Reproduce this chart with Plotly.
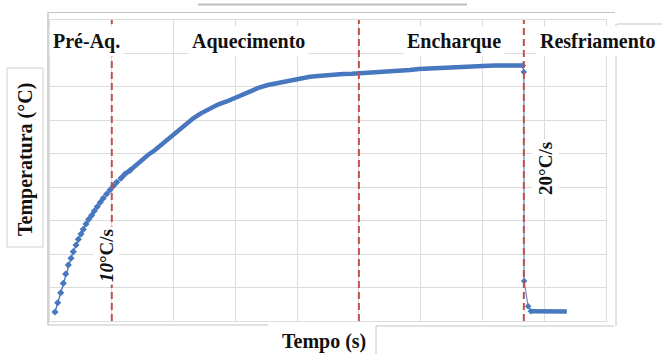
import plotly.graph_objects as go

# ---------------- data ----------------
# pre-heating samples (individual markers visible)
t_pre = [0.81, 1.25, 1.73, 2.15, 2.54, 2.96, 3.40, 3.77, 4.21, 4.58, 5.02, 5.39,
         5.83, 6.26, 6.75, 7.17, 7.65, 8.14, 8.62, 9.17, 9.71, 10.24, 10.79,
         11.49, 12.14, 12.94]
T_pre = [26.9, 54.7, 84.6, 112.7, 140.5, 167.5, 187.5, 207.2, 227.3, 244.3, 260.2,
         274.2, 290.1, 304.1, 316.0, 328.9, 341.8, 354.9, 366.9, 379.7, 391.7,
         403.7, 414.7, 426.7, 439.5, 450.0]

# heating + soaking (dense samples, drawn as a band)
t_heat = [11.49, 12.14, 12.94, 13.75, 14.89, 15.86, 17.00, 17.80, 19.09, 20.50,
          21.84, 23.19, 24.43, 25.89, 27.18, 28.59, 29.94, 31.28, 32.69, 33.98,
          35.28, 36.68, 38.35, 39.92, 40.94, 42.07, 43.37, 44.77, 46.12, 47.46,
          48.87, 50.16, 51.78, 53.40, 55.02, 56.63, 58.25, 59.71, 61.49, 63.11,
          64.89, 66.67, 68.28, 70.06, 72.01, 73.62, 75.24, 76.21, 76.54]
T_heat = [426.7, 439.5, 450.0, 463.4, 481.4, 496.3, 511.3, 523.3, 544.2, 567.1,
          588.0, 605.9, 620.9, 636.9, 647.3, 656.3, 666.8, 678.7, 689.2, 698.8,
          705.6, 710.7, 717.6, 723.6, 728.1, 730.5, 732.6, 735.5, 737.0, 738.5,
          739.4, 740.6, 742.1, 743.9, 746.0, 748.1, 750.5, 753.5, 755.6, 757.1,
          758.6, 760.1, 761.3, 762.5, 763.7, 764.5, 765.4, 766.0, 764.0]

# cooling samples
t_cool = [76.54, 76.70, 76.75, 77.39, 77.83]
T_cool = [764.0, 744.5, 119.6, 44.0, 29.0]

# final hold (dense)
t_hold = [77.83, 78.80, 80.10, 81.39, 82.52, 83.66]
T_hold = [29.0, 28.4, 28.4, 28.4, 28.4, 28.4]

phase_bounds = [10.0, 50.0, 76.7]
phase_names = ["Pré-Aq.", "Aquecimento", "Encharque", "Resfriamento"]
phase_label_t = [5.83, 32.2, 65.4, 88.7]
phase_label_T = 837

rate_labels = ["<b><i>10</i>°C/s</b>", "<b>20°C/s</b>"]
rate_label_t = [9.06, 80.3]
rate_label_T = [197, 455]

x_title = "Tempo (s)"
y_title = "Temperatura (°C)"

# ---------------- layout geometry ----------------
W, H = 662, 354
L, R, TOP, B = 50, 606, 20, 321   # plot area in pixels


def px(x):
    return (x - L) / (R - L)


def py(y):
    return (B - y) / (B - TOP)


BLUE = "#4677bf"
RED = "#c0504d"
FONT = "Liberation Serif"

fig = go.Figure()

fig.add_trace(go.Scatter(x=t_heat, y=T_heat, mode="lines",
                         line=dict(color=BLUE, width=4.5), hoverinfo="skip",
                         showlegend=False))
fig.add_trace(go.Scatter(x=t_hold, y=T_hold, mode="lines",
                         line=dict(color=BLUE, width=4.5), hoverinfo="skip",
                         showlegend=False))
fig.add_trace(go.Scatter(x=t_pre, y=T_pre, mode="lines+markers",
                         line=dict(color=BLUE, width=1.3),
                         marker=dict(color=BLUE, size=5.5, symbol="diamond"),
                         showlegend=False))
fig.add_trace(go.Scatter(x=t_cool, y=T_cool, mode="lines+markers",
                         line=dict(color="#6f95d0", width=1.3),
                         marker=dict(color=BLUE, size=5, symbol="diamond"),
                         showlegend=False))

shapes = []
for tb in phase_bounds:
    shapes.append(dict(type="line", xref="x", yref="paper", x0=tb, x1=tb,
                       y0=0, y1=1, line=dict(color=RED, width=2, dash="7px,4px"),
                       layer="above"))

GREY = "#c4c4c4"


def seg(x0, y0, x1, y1, color=GREY, width=1):
    shapes.append(dict(type="line", xref="paper", yref="paper",
                       x0=px(x0), y0=py(y0), x1=px(x1), y1=py(y1),
                       line=dict(color=color, width=width), layer="above"))


# frame artefacts of the original composite picture
seg(198, 4.5, 467, 4.5, "#bdbdbd", 2)
seg(48, 12.5, 615, 12.5)
seg(617, 24, 662, 24)
seg(616, 24, 616, 326)
seg(48, 12.5, 48, 325, "#a9a9a9", 1)
seg(48, 325, 268, 325)
seg(376, 326, 614, 326)
seg(376, 326, 376, 354)
shapes.append(dict(type="rect", xref="paper", yref="paper",
                   x0=px(7), x1=px(43), y0=py(247), y1=py(68),
                   line=dict(color="#d0d0d0", width=1), fillcolor="white",
                   layer="above"))

annotations = []
for name, tx in zip(phase_names, phase_label_t):
    annotations.append(dict(x=tx, y=phase_label_T, xref="x", yref="y",
                            xanchor="center", yanchor="middle",
                            text="<b>" + name + "</b>", showarrow=False,
                            font=dict(family=FONT, size=20, color="#111"),
                            bgcolor="white", borderpad=3))
for txt, tx, ty in zip(rate_labels, rate_label_t, rate_label_T):
    annotations.append(dict(x=tx, y=ty, xref="x", yref="y", text=txt,
                            xanchor="center", yanchor="middle",
                            textangle=-90, showarrow=False,
                            font=dict(family=FONT, size=19, color="#111"),
                            bgcolor="white", borderpad=2))
annotations.append(dict(x=px(25), y=py(160), xref="paper", yref="paper",
                        xanchor="center", yanchor="middle",
                        text="<b>" + y_title + "</b>", textangle=-90,
                        showarrow=False,
                        font=dict(family=FONT, size=20, color="#111")))
annotations.append(dict(x=px(323.5), y=py(341), xref="paper", yref="paper",
                        xanchor="center", yanchor="middle",
                        text="<b>" + x_title + "</b>", showarrow=False,
                        font=dict(family=FONT, size=20, color="#111")))

fig.update_layout(
    width=W, height=H,
    margin=dict(l=L, r=W - R, t=TOP, b=H - B, pad=0),
    paper_bgcolor="white", plot_bgcolor="white",
    shapes=shapes, annotations=annotations,
    showlegend=False,
)
fig.update_xaxes(range=[0, 90], dtick=10, tick0=0, showticklabels=False,
                 ticks="", showgrid=True, gridcolor="#dcdcdc", gridwidth=1,
                 zeroline=False, showline=True, linecolor="#dcdcdc",
                 mirror=True)
fig.update_yaxes(range=[0, 900], dtick=100, tick0=0, showticklabels=False,
                 ticks="", showgrid=True, gridcolor="#dcdcdc", gridwidth=1,
                 zeroline=False, showline=True, linecolor="#dcdcdc",
                 mirror=True)

fig.write_html(
    "out.html",
    config={"displayModeBar": False},
    post_script="document.body.style.margin='0';document.body.style.overflow='hidden';",
)
